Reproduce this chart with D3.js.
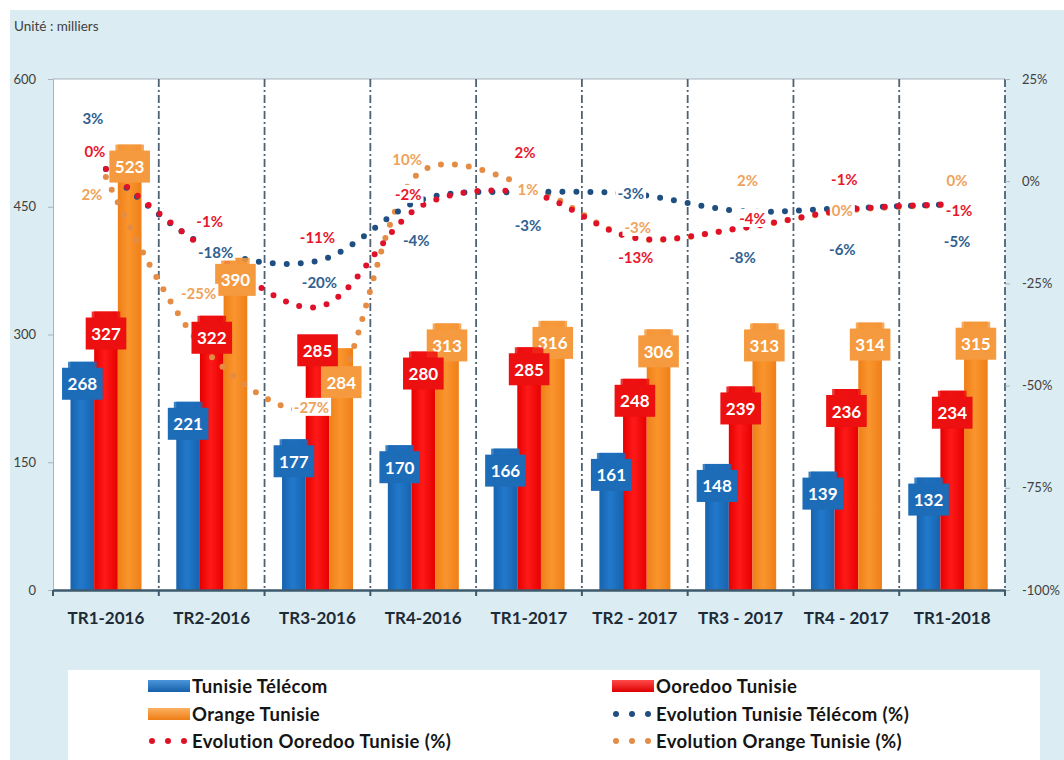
<!DOCTYPE html>
<html><head><meta charset="utf-8">
<script src="https://cdn.jsdelivr.net/npm/d3@7/dist/d3.min.js"></script>
<style>
body{margin:0;background:#fff}
svg{display:block}
text{font-family:Lato,"Open Sans",sans-serif}
</style>
</head><body>
<svg id="chart" width="1064" height="760"></svg>
<script>
// ---------- DATA ----------
const categories = ["TR1-2016","TR2-2016","TR3-2016","TR4-2016","TR1-2017","TR2 - 2017","TR3 - 2017","TR4 - 2017","TR1-2018"];
const tunisieTelecom = [268,221,177,170,166,161,148,139,132];
const ooredooTunisie = [327,322,285,280,285,248,239,236,234];
const orangeTunisie  = [523,390,284,313,316,306,313,314,315];
// evolution curves as drawn, read against the right axis (%)
const evolTT      = [3,-16.5,-19.5,-4.4,-2.7,-3.2,-7.3,-6.6,-5.6];
const evolOoredoo = [3,-17.5,-30.8,-5.8,-2.9,-13.9,-11.5,-7,-5.6];
const evolOrange  = [1,-43,-55.5,2.7,-1.2,-13.9,-11.5,-7.2,-5.8];
// printed evolution labels
const labelsTT      = ["3%","-18%","-20%","-4%","-3%","-3%","-8%","-6%","-5%"];
const labelsOoredoo = ["0%","-1%","-11%","-2%","2%","-13%","-4%","-1%","-1%"];
const labelsOrange  = ["2%","-25%","-27%","10%","1%","-3%","2%","0%","0%"];
const leftTicks  = [0,150,300,450,600];
const rightTicks = [-100,-75,-50,-25,0,25];
const unitLabel = "Unité : milliers";

// ---------- LAYOUT (annotation anchors) ----------
// horizontal offsets (px) of evolution labels from category centre
const dxTT      = [-13,4,2,-7,-1,-4,2,-4,5];
const dxOoredoo = [-11,-2,0,-15,-4,1,12,-2,7];
const dxOrange  = [-14,-13,-6,-16,-1,3,7,-4,5];
// label anchor heights, in right-axis % units
const posTT      = [15.4,-17.2,-24.7,-14.4,-10.7,-2.9,-18.5,-16.6,-14.6];
const posOoredoo = [7.4,-9.7,-13.7,-3.1,7.1,-18.5,-9.0,0.5,-7.0];
const posOrange  = [-3.1,-27.3,-55.2,5.4,-1.9,-11.2,0.3,-7.0,0.3];
// bar label vertical shift (px) relative to default
const barLabelShift = {"2-1": -19, "2-2": 12};

const svg = d3.select("#chart");
const W = 1064, H = 760;
const plot = {l:53, r:1005, t:79, b:590};

// background
svg.append("rect").attr("x",0).attr("y",0).attr("width",W).attr("height",H).attr("fill","#fff");
svg.append("rect").attr("x",10).attr("y",10).attr("width",W-10).attr("height",H-10).attr("fill","#dbecf2");
svg.append("rect").attr("x",plot.l).attr("y",plot.t).attr("width",plot.r-plot.l).attr("height",plot.b-plot.t).attr("fill","#fff");

const x = d3.scaleBand().domain(categories).range([plot.l, plot.r]).padding(0);
const yL = d3.scaleLinear().domain([0,600]).range([plot.b, plot.t]);
const yR = d3.scaleLinear().domain([-100,25]).range([plot.b, plot.t]);
const seriesNames = ["tt","oo","or"];
const xs = d3.scaleBand().domain(seriesNames).range([17.5, 88.5]).padding(0);

const defs = svg.append("defs");
function grad(id, c1, c2){
  const g = defs.append("linearGradient").attr("id",id).attr("x1","0").attr("x2","1").attr("y1","0").attr("y2","0");
  g.append("stop").attr("offset","0").attr("stop-color",c2);
  g.append("stop").attr("offset","0.45").attr("stop-color",c1);
  g.append("stop").attr("offset","1").attr("stop-color",c2);
}
grad("gBlue","#2279cc","#1763ae");
grad("gRed","#ff1a1a","#e60000");
grad("gOrange","#fa952e","#ef7f17");
function vgrad(id, c1, c2){
  const g = defs.append("linearGradient").attr("id",id).attr("x1","0").attr("x2","0").attr("y1","0").attr("y2","1");
  g.append("stop").attr("offset","0").attr("stop-color",c1);
  g.append("stop").attr("offset","1").attr("stop-color",c2);
}
vgrad("lBlue","#4a95dc","#1560a8");
vgrad("lRed","#ff4a4a","#dd0000");
vgrad("lOrange","#fbb060","#ee7d15");

// separators (dash-dot)
const bounds = categories.map(c => x(c)).slice(1).concat([plot.r]);
svg.append("line").attr("x1",plot.l).attr("x2",plot.r).attr("y1",plot.t).attr("y2",plot.t).attr("stroke","#a9b3bb").attr("stroke-width",1);
svg.selectAll(".sep").data(bounds).join("line")
  .attr("x1",d=>d).attr("x2",d=>d).attr("y1",plot.t).attr("y2",plot.b)
  .attr("stroke","#4d6275").attr("stroke-width",1.8).attr("stroke-dasharray","8,3,2,3");

// bars
const barSeries = [
  {key:"tt", values:tunisieTelecom, fill:"url(#gBlue)", box:"#1d6cb8"},
  {key:"oo", values:ooredooTunisie, fill:"url(#gRed)", box:"#ec1010"},
  {key:"or", values:orangeTunisie, fill:"url(#gOrange)", box:"#f59a3e"}
];
barSeries.forEach(s => {
  svg.selectAll(".bar-"+s.key).data(s.values).join("rect")
    .attr("x",(d,i)=>x(categories[i])+xs(s.key))
    .attr("width",xs.bandwidth())
    .attr("y",d=>yL(d)).attr("height",d=>plot.b-yL(d))
    .attr("fill",s.fill);
});

// evolution lines (orange, blue, red drawing order)
const line = d3.line().x((d,i)=>x(categories[i])+x.bandwidth()/2).y(d=>yR(d)).curve(d3.curveCatmullRom.alpha(0.5));
const lineSeries = [
  {values:evolOrange, color:"#e58c44"},
  {values:evolTT, color:"#1f4f80"},
  {values:evolOoredoo, color:"#e0102a"}
];
lineSeries.forEach(s => {
  svg.append("path").datum(s.values).attr("d",line).attr("fill","none")
    .attr("stroke",s.color).attr("stroke-width",6).attr("stroke-linecap","round")
    .attr("stroke-dasharray","0,14");
});

// bar labels (callouts); orange first so red/blue callouts stay on top
[2,0,1].forEach(si => {
  const s = barSeries[si];
  s.values.forEach((v,i) => {
    const cx = x(categories[i]) + xs(s.key) + xs.bandwidth()/2;
    const shift = barLabelShift[i+"-"+si];
    const top = yL(v) + (shift || 0);
    const g = svg.append("g");
    const t = g.append("text").attr("x",cx).attr("y",top+22).attr("text-anchor","middle")
      .attr("dominant-baseline","central").attr("fill","#fff").attr("font-weight",700).attr("font-size",17).text(v);
    const w = t.node().getComputedTextLength() + 11;
    g.insert("rect","text").attr("x",cx-w/2).attr("y",top+6).attr("width",w).attr("height",32).attr("fill",s.box);
    if (!shift) {
      g.insert("rect","text").attr("x",cx-(w-12)/2).attr("y",top).attr("width",w-12).attr("height",7).attr("fill",s.box).attr("opacity",0.85);
    }
  });
});

// evolution labels
const pctLabels = [
  {labels:labelsTT, pos:posTT, dx:dxTT, color:"#2f6090"},
  {labels:labelsOoredoo, pos:posOoredoo, dx:dxOoredoo, color:"#e8172d"},
  {labels:labelsOrange, pos:posOrange, dx:dxOrange, color:"#eea25a"}
];
pctLabels.forEach(s => {
  s.labels.forEach((lab,i) => {
    const cx = x(categories[i]) + x.bandwidth()/2 + s.dx[i];
    const cy = yR(s.pos[i]);
    const g = svg.append("g");
    const t = g.append("text").attr("x",cx).attr("y",cy).attr("text-anchor","middle")
      .attr("dominant-baseline","central").attr("fill",s.color).attr("font-weight",700).attr("font-size",15).text(lab);
    const w = t.node().getComputedTextLength() + 4;
    g.insert("rect","text").attr("x",cx-w/2).attr("y",cy-9).attr("width",w).attr("height",18).attr("fill","#fff");
  });
});

// axes
const axL = svg.append("g").attr("transform",`translate(${plot.l},0)`)
  .call(d3.axisLeft(yL).tickValues(leftTicks).tickSize(5).tickPadding(12));
axL.select(".domain").attr("stroke","#a9b3bb");
axL.selectAll(".tick line").attr("stroke","#a9b3bb");
axL.selectAll("text").attr("font-size",13).attr("fill","#404040").attr("font-family","Lato");

const axR = svg.append("g").attr("transform",`translate(${plot.r},0)`)
  .call(d3.axisRight(yR).tickValues(rightTicks).tickFormat(d=>d+"%").tickSize(5).tickPadding(12));
axR.select(".domain").remove();
axR.selectAll(".tick line").attr("stroke","#a9b3bb");
axR.selectAll("text").attr("font-size",13).attr("fill","#404040").attr("font-family","Lato");

const axX = svg.append("g").attr("transform",`translate(0,${plot.b})`)
  .call(d3.axisBottom(x).tickSize(0).tickPadding(22));
axX.select(".domain").attr("stroke","#3d5a6c").attr("stroke-width",2.5);
axX.selectAll("text").attr("font-size",17).attr("font-weight",700).attr("fill","#1d2b38").attr("font-family","Lato");
svg.selectAll(".xtick").data([plot.l].concat(bounds)).join("line")
  .attr("x1",d=>d).attr("x2",d=>d).attr("y1",plot.b).attr("y2",plot.b+6)
  .attr("stroke","#3d5a6c").attr("stroke-width",2);

svg.append("text").attr("x",14).attr("y",31).attr("font-size",13.5).attr("fill","#404040").text(unitLabel);

// legend
svg.append("rect").attr("x",68).attr("y",670).attr("width",972).attr("height",90).attr("fill","#fff");
const legendItems = [
  {name:"Tunisie Télécom", type:"bar", fill:"url(#lBlue)", col:0, row:0},
  {name:"Ooredoo Tunisie", type:"bar", fill:"url(#lRed)", col:1, row:0},
  {name:"Orange Tunisie", type:"bar", fill:"url(#lOrange)", col:0, row:1},
  {name:"Evolution Tunisie Télécom (%)", type:"dot", fill:"#1f4f80", col:1, row:1},
  {name:"Evolution Ooredoo Tunisie (%)", type:"dot", fill:"#e0102a", col:0, row:2},
  {name:"Evolution Orange Tunisie (%)", type:"dot", fill:"#e58c44", col:1, row:2}
];
const colX = [148, 612], rowY = [686, 714, 741];
legendItems.forEach(it => {
  const lx = colX[it.col], ly = rowY[it.row];
  if (it.type === "bar") {
    svg.append("rect").attr("x",lx).attr("y",ly-6).attr("width",42).attr("height",12).attr("fill",it.fill);
  } else {
    [0,1,2].forEach(k => svg.append("circle").attr("cx",lx+4+k*16).attr("cy",ly).attr("r",3).attr("fill",it.fill));
  }
  svg.append("text").attr("x",lx+44).attr("y",ly).attr("dominant-baseline","central")
    .attr("font-size",18.5).attr("font-weight",700).attr("letter-spacing",0.4).attr("fill","#151515").text(it.name);
});
</script>
</body></html>
